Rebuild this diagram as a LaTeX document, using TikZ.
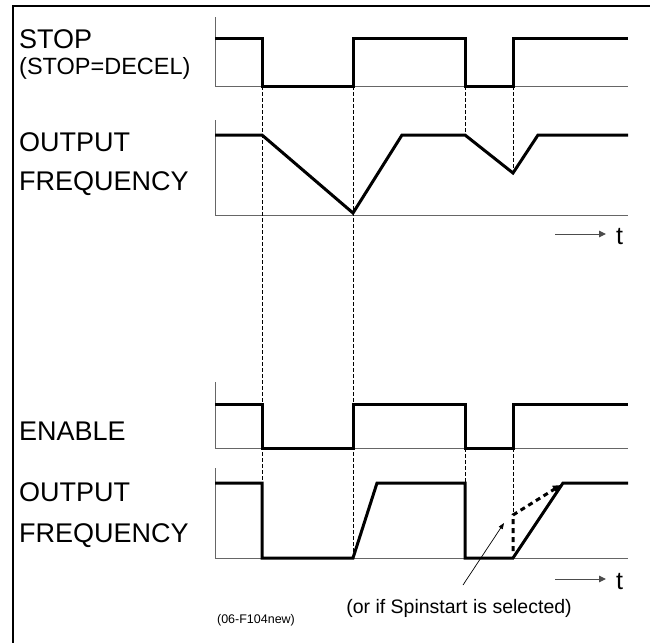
\documentclass[tikz,border=0pt]{standalone}
\usepackage{fontspec}
\setmainfont{Liberation Sans}
\usetikzlibrary{arrows.meta}
\tikzset{
    signal/.style = {
        line width=3pt,
        line join=miter
    },
    axisline/.style = {
        line width=0.8pt,
        draw=black!60
    },
    guideline/.style = {
        line width=0.8pt,
        dash pattern=on 3.5pt off 2.5pt
    },
    siglabel/.style = {
        anchor=base west,
        inner sep=0pt,
        font=\fontsize{27}{30}\selectfont
    },
    sublabel/.style = {
        siglabel,
        font=\fontsize{23.5}{26}\selectfont
    },
    timearrow/.style = {
        line width=1pt,
        draw=black!70,
        -{Triangle[length=7pt,width=6.5pt]}
    },
    timelabel/.style = {
        anchor=base west,
        inner sep=0pt,
        font=\fontsize{25}{28}\selectfont
    },
    spinpath/.style = {
        line width=3pt,
        dash pattern=on 5pt off 4pt,
        -{Triangle[length=8pt,width=7.5pt]}
    }
}

\begin{document}
\begin{tikzpicture}[x=1pt, y=-1pt]
    \useasboundingbox (0,0) rectangle (650,643);
    % frame
    \draw [line width=2.5pt] (650,6) -- (13,6) -- (13,643);

    % labels
    \node [siglabel] (stoplbl) at (19,48) {STOP};
    \node [sublabel] (decellbl) at (19,74) {(STOP=DECEL)};
    \node [siglabel] (outlblA) at (19,151) {OUTPUT};
    \node [siglabel] (freqlblA) at (19,190) {FREQUENCY};
    \node [siglabel] (enablelbl) at (19,440) {ENABLE};
    \node [siglabel] (outlblB) at (19,501) {OUTPUT};
    \node [siglabel] (freqlblB) at (19,542) {FREQUENCY};

    % axes
    \draw [axisline] (215,17) -- (215,86) -- (628,86);
    \draw [axisline] (215,120) -- (215,215) -- (628,215);
    \draw [axisline] (215,382) -- (215,448) -- (628,448);
    \draw [axisline] (215,468) -- (215,558) -- (628,558);

    % guides
    \draw [guideline] (262,86) -- (262,483);
    \draw [guideline] (353,86) -- (353,558);
    \draw [guideline] (465,86) -- (465,135);
    \draw [guideline] (513,86) -- (513,170);
    \draw [guideline] (465,448) -- (465,483);
    \draw [guideline] (513,448) -- (513,515);

    % upper pair (stop = decel)
    \draw [signal] (215,38) -- (262,38) -- (262,86) -- (353,86) -- (353,38)
        -- (465,38) -- (465,86) -- (513,86) -- (513,38) -- (628,38);
    \draw [signal] (215,135) -- (262,135) -- (353,213) -- (402,135)
        -- (465,135) -- (513,173) -- (538,135) -- (628,135);

    % lower pair (enable)
    \draw [signal] (215,404) -- (262,404) -- (262,448) -- (353,448) -- (353,404)
        -- (465,404) -- (465,448) -- (513,448) -- (513,404) -- (628,404);
    \draw [signal] (215,483) -- (262,483) -- (262,558) -- (353,558) -- (377,483)
        -- (465,483) -- (465,558) -- (513,558) -- (563,483) -- (628,483);
    \draw [spinpath] (513,551) -- (513,515) -- (561,485);

    % time axes
    \coordinate (tstartA) at (555,234);
    \coordinate (tendA) at (606,234);
    \node [timelabel] (tlblA) at (616,244) {t};
    \draw [timearrow] (tstartA) -- (tendA);
    \coordinate (tstartB) at (555,579);
    \coordinate (tendB) at (606,579);
    \node [timelabel] (tlblB) at (616,589) {t};
    \draw [timearrow] (tstartB) -- (tendB);

    % notes
    \node [anchor=base, inner sep=0pt, font=\fontsize{19.5}{22}\selectfont] (spintxt) at (459,613) {(or if Spinstart is selected)};
    \coordinate (notefoot) at (463,585);
    \coordinate (notetip) at (504,523);
    \draw [line width=0.7pt, -{Triangle[length=6pt,width=4.5pt]}] (notefoot) -- (notetip);
    \node [anchor=base, inner sep=0pt, font=\fontsize{12.5}{14}\selectfont] (figref) at (256,623) {(06-F104new)};
\end{tikzpicture}
\end{document}
